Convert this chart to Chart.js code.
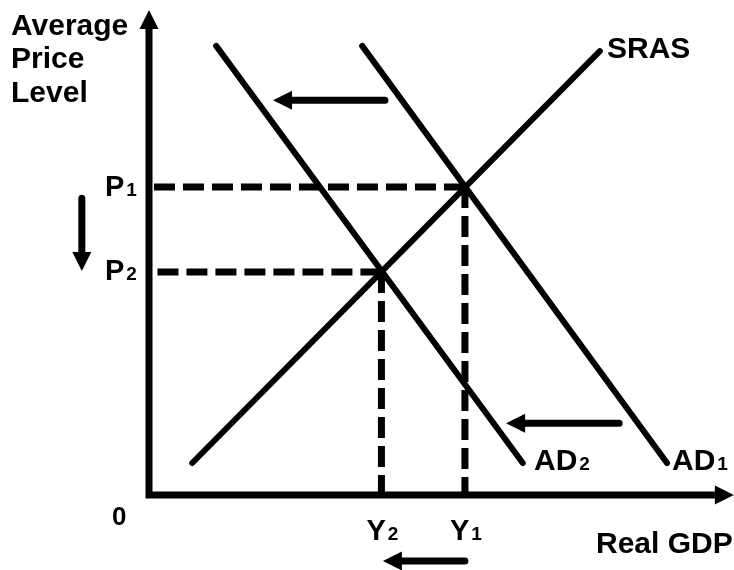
<!DOCTYPE html>
<html>
<head>
<meta charset="utf-8">
<script src="https://cdn.jsdelivr.net/npm/chart.js@4/dist/chart.umd.min.js"></script>
<style>
  body { margin: 0; background: #fff; }
  canvas { display: block; }
</style>
</head>
<body>
<canvas id="adChart" width="734" height="570"></canvas>
<script>
// curves (x = real GDP, y = price level, arbitrary units 0..10)
const srasX = [0.74, 7.72];
const srasY = [0.66, 9.15];
const ad1X = [3.65, 8.87];
const ad1Y = [9.26, 0.66];
const ad2X = [1.15, 6.40];
const ad2Y = [9.26, 0.66];

// equilibrium points: index 0 = before (1), index 1 = after (2)
const outputLevels = [5.41, 3.98];
const priceLevels = [6.35, 4.60];
const eqSubs = ['1', '2'];

// shift arrows [x0, x1], [y0, y1] (shaft start -> shaft end, head added on end)
const shiftTopX = [4.04, 2.45];
const shiftTopY = [8.14, 8.14];
const shiftLowX = [8.05, 6.44];
const shiftLowY = [1.48, 1.48];
const priceDropX = [-1.15, -1.15];
const priceDropY = [6.12, 5.01];
const gdpDropX = [5.41, 4.33];
const gdpDropY = [-1.36, -1.36];

const FONT = '"Liberation Sans", Arial, sans-serif';

function pts(xs, ys) {
    return xs.map((x, i) => ({ x: x, y: ys[i] }));
}

function line(xs, ys, extra) {
    return Object.assign({
        data: pts(xs, ys),
        showLine: true,
        borderColor: '#000',
        borderWidth: 6,
        pointRadius: 0,
        borderCapStyle: 'round',
        clip: false
    }, extra || {});
}

const datasets = [];

// axes
datasets.push(line([0, 0, 9.69], [9.61, 0, 0], {
    borderWidth: 7, borderCapStyle: 'butt', borderJoinStyle: 'miter',
    arrowStart: true, arrowEnd: true
}));

// dashed guides
for (let i = 0; i < outputLevels.length; i++) {
    const opts = { borderWidth: 7, borderCapStyle: 'butt', borderDash: [21, 8] };
    datasets.push(line([outputLevels[i], 0.06], [priceLevels[i], priceLevels[i]], opts));
    datasets.push(line([outputLevels[i], outputLevels[i]], [priceLevels[i], 0.06], opts));
}

datasets.push(line(srasX, srasY));
datasets.push(line(ad1X, ad1Y));
datasets.push(line(ad2X, ad2Y));

const arrowOpts = { borderWidth: 7, arrowEnd: true };
datasets.push(line(shiftTopX, shiftTopY, arrowOpts));
datasets.push(line(shiftLowX, shiftLowY, arrowOpts));
datasets.push(line(priceDropX, priceDropY, arrowOpts));
datasets.push(line(gdpDropX, gdpDropY, arrowOpts));

function drawHead(ctx, from, to, len, half) {
    const dx = to.x - from.x, dy = to.y - from.y;
    const d = Math.hypot(dx, dy) || 1;
    const ux = dx / d, uy = dy / d;
    ctx.beginPath();
    ctx.moveTo(to.x + ux * len, to.y + uy * len);
    ctx.lineTo(to.x - uy * half, to.y + ux * half);
    ctx.lineTo(to.x + uy * half, to.y - ux * half);
    ctx.closePath();
    ctx.fill();
}

const arrowHeads = {
    id: 'arrowHeads',
    afterDatasetsDraw(chart) {
        const ctx = chart.ctx;
        ctx.save();
        ctx.fillStyle = '#000';
        chart.data.datasets.forEach((ds, i) => {
            const p = chart.getDatasetMeta(i).data;
            if (ds.arrowEnd) drawHead(ctx, p[p.length - 2], p[p.length - 1], 19, 9.5);
            if (ds.arrowStart) drawHead(ctx, p[1], p[0], 19, 9.5);
        });
        ctx.restore();
    }
};

function subText(ctx, main, sub, x, y, size, subSize, align) {
    ctx.font = 'bold ' + size + 'px ' + FONT;
    const w1 = ctx.measureText(main).width;
    ctx.font = 'bold ' + subSize + 'px ' + FONT;
    const w2 = ctx.measureText(sub).width;
    let x0 = x;
    if (align === 'center') x0 = x - (w1 + 2 + w2) / 2;
    ctx.textAlign = 'left';
    ctx.font = 'bold ' + size + 'px ' + FONT;
    ctx.fillText(main, x0, y);
    ctx.font = 'bold ' + subSize + 'px ' + FONT;
    ctx.fillText(sub, x0 + w1 + 2, y);
}

const labels = {
    id: 'labels',
    afterDraw(chart) {
        const ctx = chart.ctx;
        const xs = chart.scales.x, ys = chart.scales.y;
        ctx.save();
        ctx.fillStyle = '#000';
        ctx.textBaseline = 'alphabetic';
        ctx.textAlign = 'left';
        ctx.font = 'bold 30px ' + FONT;
        ctx.fillText('Average', 11, 35);
        ctx.fillText('Price', 11, 68);
        ctx.fillText('Level', 11, 102);
        ctx.fillText('SRAS', 607, 58);
        ctx.fillText('Real GDP', 596, 553);
        ctx.font = 'bold 26px ' + FONT;
        ctx.fillText('0', 112, 525);

        for (let i = 0; i < priceLevels.length; i++) {
            subText(ctx, 'P', eqSubs[i], 105, ys.getPixelForValue(priceLevels[i]) + 8.5, 29, 19, 'left');
            subText(ctx, 'Y', eqSubs[i], xs.getPixelForValue(outputLevels[i]) + 1, 540, 29, 19, 'center');
        }
        subText(ctx, 'AD', '2', 534, 470, 30, 19, 'left');
        subText(ctx, 'AD', '1', 672, 470, 30, 19, 'left');
        ctx.restore();
    }
};

new Chart(document.getElementById('adChart'), {
    type: 'scatter',
    data: { datasets: datasets },
    options: {
        responsive: false,
        animation: false,
        layout: { padding: { left: 149, right: 1, top: 10, bottom: 75 } },
        scales: {
            x: { type: 'linear', min: 0, max: 10, display: false },
            y: { type: 'linear', min: 0, max: 10, display: false }
        },
        plugins: {
            legend: { display: false },
            tooltip: { enabled: false }
        }
    },
    plugins: [arrowHeads, labels]
});
</script>
</body>
</html>
